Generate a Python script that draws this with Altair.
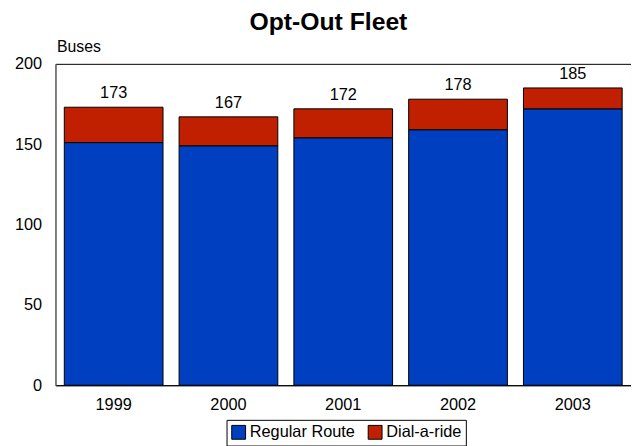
import altair as alt
import pandas as pd

years = ["1999", "2000", "2001", "2002", "2003"]
regular = [151, 149, 154, 159, 172]
dial = [22, 18, 18, 19, 13]
totals = [173, 167, 172, 178, 185]
series = ["Regular Route", "Dial-a-ride"]
colors = ["#0040C0", "#C02000"]

rows = []
for y, r, d in zip(years, regular, dial):
    rows.append({"year": y, "series": series[0], "value": r, "ord": 0})
    rows.append({"year": y, "series": series[1], "value": d, "ord": 1})
df = pd.DataFrame(rows)
tot = pd.DataFrame({"year": years, "total": totals})

FONT = "Liberation Sans"

xenc = alt.X("year:N", title=None, sort=years,
             scale=alt.Scale(paddingInner=0.14, paddingOuter=0.077),
             axis=alt.Axis(labelAngle=0, ticks=False, labelPadding=12, labelFontSize=16.5,
                           labelFont=FONT, labelColor="black", domainColor="black"))

bars = alt.Chart(df).mark_bar(stroke="black", strokeWidth=1).encode(
    x=xenc,
    y=alt.Y("value:Q", stack="zero",
            scale=alt.Scale(domain=[0, 200]),
            axis=alt.Axis(values=[0, 50, 100, 150, 200], ticks=False, grid=False,
                          labelPadding=14, labelFontSize=16.5, labelFont=FONT, labelColor="black",
                          domainColor="#808080",
                          title="Buses", titleAngle=0, titleX=1, titleY=-9, titleAlign="left",
                          titleBaseline="bottom", titleFontWeight="normal", titleFontSize=16,
                          titleFont=FONT, titleColor="black")),
    color=alt.Color("series:N", sort=series,
                    scale=alt.Scale(domain=series, range=colors),
                    legend=alt.Legend(title=None, orient="none", direction="horizontal",
                                      legendX=173, legendY=360, symbolType="square",
                                      symbolSize=196, symbolStrokeColor="black",
                                      symbolStrokeWidth=1, symbolOpacity=1,
                                      labelFontSize=16.5, labelFont=FONT, labelColor="black",
                                      strokeColor="black", padding=4, columnPadding=11,
                                      labelOffset=3)),
    order=alt.Order("ord:Q"),
)

labels = alt.Chart(tot).mark_text(dy=-14, fontSize=16.5, font=FONT, color="black").encode(
    x=alt.X("year:N", sort=years),
    y=alt.Y("total:Q"),
    text=alt.Text("total:Q"),
)

chart = (bars + labels).properties(
    width=582, height=325,
    title=alt.TitleParams("Opt-Out Fleet", fontSize=25, font=FONT, fontWeight="bold",
                          anchor="middle", dx=-15, offset=4, color="black"),
    autosize=alt.AutoSizeParams(type="none"),
    padding={"left": 48, "top": 54, "right": 0, "bottom": 60},
).configure_view(stroke="black", strokeWidth=1)

chart.save("out.html", embed_options={"renderer": "svg", "actions": False})
